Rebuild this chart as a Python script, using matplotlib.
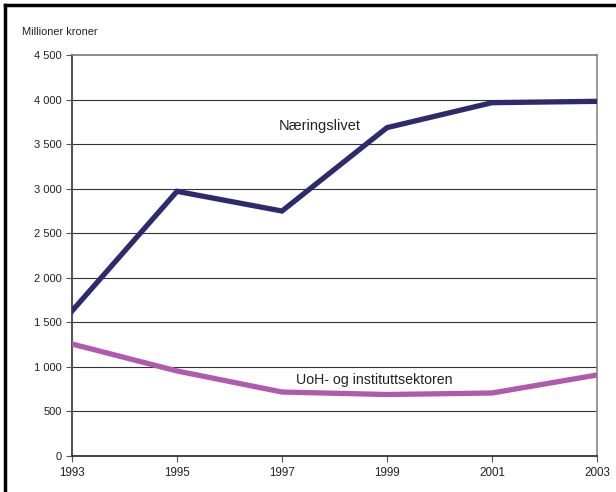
import numpy as np
import matplotlib.pyplot as plt
from matplotlib.lines import Line2D

plt.rcParams['font.family'] = ['Liberation Sans', 'DejaVu Sans']

years = [1993, 1995, 1997, 1999, 2001, 2003]
naeringslivet = [1627, 2970, 2749, 3685, 3965, 3980]
uoh_institutt = [1257, 954, 718, 690, 707, 909]
y_ticks = [0, 500, 1000, 1500, 2000, 2500, 3000, 3500, 4000, 4500]
y_labels = ['0', '500', '1 000', '1 500', '2 000', '2 500', '3 000', '3 500', '4 000', '4 500']

fig = plt.figure(figsize=(6.16, 4.92), dpi=100)
ax = fig.add_axes([72/616, 36/492, 525/616, 401/492])

# ramme oppe og til venstre
fig.add_artist(Line2D([5/616, 5/616], [0, 1 - 5/492], color='black', lw=2.5, transform=fig.transFigure))
fig.add_artist(Line2D([5/616, 1], [1 - 5/492, 1 - 5/492], color='black', lw=2.5, transform=fig.transFigure))

for y in y_ticks[1:-1]:
    ax.axhline(y, color='#333333', lw=0.8, zorder=1)

ax.plot(years, naeringslivet, color='#2E2A6E', lw=3.8, solid_joinstyle='miter', zorder=3)
ax.plot(years, uoh_institutt, color='#B05AAE', lw=3.8, solid_joinstyle='miter', zorder=3)

ax.text(1996.93, 3700, 'Næringslivet', fontsize=10.5, va='center', ha='left', color='#222222')
ax.text(1997.27, 850, 'UoH- og instituttsektoren', fontsize=10.2, va='center', ha='left', color='#222222')

ax.set_xlim(1993, 2003)
ax.set_ylim(0, 4500)
ax.set_xticks(years)
ax.set_yticks(y_ticks)
ax.set_yticklabels(y_labels)
ax.tick_params(axis='both', length=4, width=0.8, color='#555555', direction='out', labelcolor='#222222')
ax.tick_params(axis='y', labelsize=8)
ax.tick_params(axis='x', labelsize=8.4, pad=4)

ax.spines['left'].set_color('#555555')
ax.spines['left'].set_linewidth(1.5)
ax.spines['bottom'].set_color('#222222')
ax.spines['bottom'].set_linewidth(1.2)
ax.spines['right'].set_color('#888888')
ax.spines['right'].set_linewidth(1.2)
ax.spines['top'].set_color('#777777')
ax.spines['top'].set_linewidth(1.2)

fig.text(22/616, 1 - 32/492, 'Millioner kroner', fontsize=7.9, va='center', ha='left', color='#222222')

fig.savefig('out.png', dpi=100)
